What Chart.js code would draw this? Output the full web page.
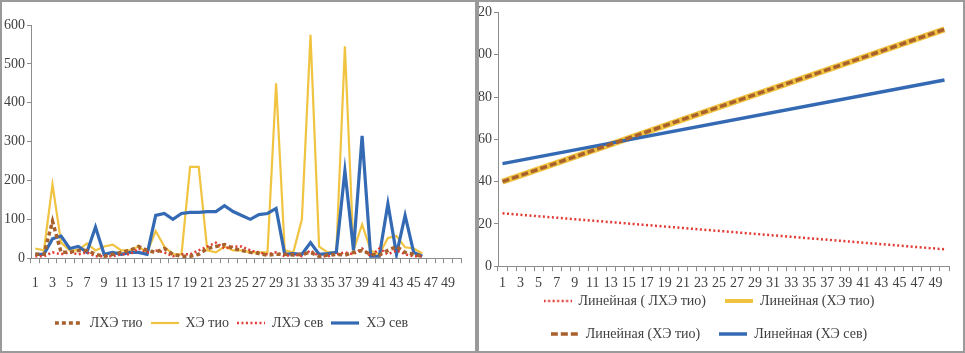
<!DOCTYPE html>
<html lang="ru">
  <head>
    <meta charset="UTF-8" />
    <title>ЛХЭ / ХЭ</title>
    <script src="https://cdn.jsdelivr.net/npm/chart.js"></script>
    <style>
      body {
        margin: 0;
        background: #ffffff;
        width: 965px;
        height: 353px;
        position: relative;
        overflow: hidden;
      }
      .panel {
        position: absolute;
        top: 0;
        height: 349px;
        border: 2px solid #9a9a9a;
        background: #fff;
        overflow: hidden;
      }
      .box {
        position: absolute;
        top: 0;
        height: 349px;
      }
    </style>
  </head>
  <body>
    <div class="panel" style="left: 0; width: 473px">
      <div class="box" style="left: 0; width: 473px">
        <canvas id="leftChart"></canvas>
      </div>
    </div>
    <div class="panel" style="left: 477px; width: 484px">
      <div class="box" style="left: -10px; width: 494px">
        <canvas id="rightChart"></canvas>
      </div>
    </div>
  </body>
  <script>
    // categories 1..50 (only odd ones are labelled)
    const categories = [];
    for (let i = 1; i <= 50; i++) categories.push(String(i));

    // left chart series (points 1..46)
    const lheTio = [
      10, 10, 95, 15, 15, 20, 20, 10, 5, 10, 15, 20, 30, 20, 15, 25, 10, 5, 5,
      10, 25, 30, 35, 25, 20, 15, 12, 8, 10, 10, 8, 10, 15, 5, 8, 10, 8, 15, 20,
      10, 8, 20, 30, 15, 10, 5,
    ];
    const heTio = [
      25, 20, 190, 40, 20, 20, 38, 20, 30, 35, 20, 20, 30, 15, 70, 30, 10, 10,
      235, 235, 20, 15, 30, 20, 20, 15, 15, 15, 450, 20, 15, 100, 575, 30, 15,
      15, 545, 20, 87, 20, 10, 52, 57, 28, 25, 12,
    ];
    const lheSev = [
      5, 5, 15, 10, 15, 10, 15, 5, 5, 5, 10, 10, 25, 15, 20, 15, 5, 10, 10, 20,
      30, 40, 25, 30, 30, 20, 15, 10, 15, 5, 10, 5, 20, 5, 5, 10, 15, 10, 25, 5,
      25, 10, 20, 10, 5, 5,
    ];
    const heSev = [
      10, 10, 50, 57, 25, 30, 15, 80, 10, 15, 10, 15, 15, 10, 110, 115, 100,
      115, 118, 118, 120, 120, 135, 120, 110, 100, 112, 115, 128, 10, 12, 10, 40,
      10, 12, 15, 225, 20, 315, 5, 5, 140, 10, 110, 15, 5,
    ];

    // right chart: linear trend lines, start (x=1) and end (x=50) values
    const trendLheTio = [25, 8];
    const trendHeTio = [40, 112];
    const trendHeSev = [48.5, 88];

    const font = { family: "'Liberation Serif', serif", size: 14 };
    const textColor = "#404040";
    const axisColor = "#8c8c8c";

    // small canvas used as legend swatch so that the dash shows
    function swatch(color, width, dash) {
      const c = document.createElement("canvas");
      c.width = 28;
      c.height = 8;
      const g = c.getContext("2d");
      g.strokeStyle = color;
      g.lineWidth = width;
      g.setLineDash(dash);
      g.beginPath();
      g.moveTo(0, 4);
      g.lineTo(28, 4);
      g.stroke();
      return c;
    }

    // lets the legend sit closer to the x labels than its own padding allows
    const unclipX = {
      id: "unclipX",
      afterLayout(chart) {
        if (chart.options.shrinkX > 0) chart.scales.x.bottom += chart.options.shrinkX;
      },
    };

    function xAxis(pad, shrink) {
      return {
        offset: true,
        afterFit: (s) => {
          s.height -= shrink;
        },
        grid: {
          offset: true,
          drawOnChartArea: false,
          drawTicks: true,
          tickLength: 5,
          color: axisColor,
        },
        border: { color: axisColor },
        ticks: {
          autoSkip: false,
          maxRotation: 0,
          minRotation: 0,
          color: textColor,
          font: font,
          padding: pad,
          callback: function (v, i) {
            return i % 2 === 0 ? this.getLabelForValue(v) : "";
          },
        },
      };
    }

    function yAxis(max, step) {
      return {
        min: 0,
        max: max,
        grid: {
          drawOnChartArea: false,
          drawTicks: true,
          tickLength: 4,
          color: axisColor,
        },
        border: { color: axisColor },
        ticks: { stepSize: step, color: textColor, font: font, padding: 2 },
      };
    }

    function line(label, data, color, width, dash, order) {
      return {
        label: label,
        data: data,
        borderColor: color,
        backgroundColor: color,
        borderWidth: width,
        borderDash: dash,
        pointRadius: 0,
        pointStyle: swatch(color, Math.min(width, 4), dash),
        tension: 0,
        fill: false,
        order: order,
      };
    }

    function legend(padding) {
      return {
        position: "bottom",
        labels: {
          usePointStyle: true,
          pointStyleWidth: 28,
          color: textColor,
          font: font,
          padding: padding,
          sort: (a, b) => a.datasetIndex - b.datasetIndex,
        },
      };
    }

    const LEFT_SHRINK = -4;
    new Chart(document.getElementById("leftChart"), {
      type: "line",
      data: {
        labels: categories,
        datasets: [
          line("ЛХЭ тио", lheTio, "#a8602c", 3.5, [4, 3], 0),
          line("ХЭ тио", heTio, "#f0c341", 2.2, [], 2),
          line("ЛХЭ сев", lheSev, "#e23b34", 2.5, [2, 2.5], 0),
          line("ХЭ сев", heSev, "#3469b3", 3.2, [], 1),
        ],
      },
      plugins: [unclipX],
      options: {
        responsive: true,
        maintainAspectRatio: false,
        animation: false,
        shrinkX: LEFT_SHRINK,
        layout: { padding: { left: 0, right: 14, top: 23, bottom: 11 } },
        plugins: {
          tooltip: { enabled: false },
          legend: legend(8),
        },
        scales: { x: xAxis(12, LEFT_SHRINK), y: yAxis(600, 100) },
      },
    });

    const first = categories[0];
    const last = categories[categories.length - 1];
    const ends = (v) => [
      { x: first, y: v[0] },
      { x: last, y: v[1] },
    ];

    const RIGHT_SHRINK = 21;
    new Chart(document.getElementById("rightChart"), {
      type: "line",
      data: {
        labels: categories,
        datasets: [
          line("Линейная ( ЛХЭ тио)", ends(trendLheTio), "#e23b34", 2.5, [2, 2.5], 0),
          line("Линейная (ХЭ тио)", ends(trendHeTio), "#f0c341", 6, [], 2),
          line("Линейная (ХЭ тио)", ends(trendHeTio), "#a8602c", 3.5, [7, 3], 0),
          line("Линейная (ХЭ сев)", ends(trendHeSev), "#3469b3", 3.5, [], 1),
        ],
      },
      plugins: [unclipX],
      options: {
        responsive: true,
        maintainAspectRatio: false,
        animation: false,
        shrinkX: RIGHT_SHRINK,
        layout: { padding: { left: 0, right: 14, top: 0, bottom: 0 } },
        plugins: {
          tooltip: { enabled: false },
          legend: legend(19),
        },
        scales: { x: xAxis(4, RIGHT_SHRINK), y: yAxis(120, 20) },
      },
    });
  </script>
</html>
